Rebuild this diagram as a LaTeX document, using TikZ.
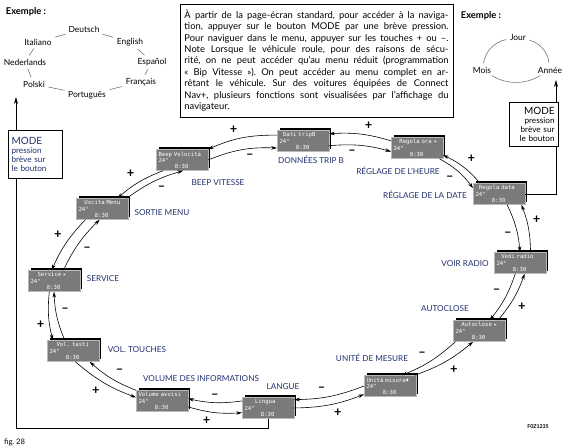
\documentclass[tikz,border=0pt]{standalone}
\usepackage{fontspec}
\setmainfont{Lato}
\setsansfont{Lato}
\newfontfamily\lcdfont{DejaVu Sans Mono}
\usetikzlibrary{arrows.meta, shadows}

\definecolor{navy}{HTML}{22306E}
\definecolor{lcdgray}{HTML}{7A7A7A}

\tikzset{
  lcd/.style={rectangle, fill=lcdgray, draw=gray!55, line width=.3pt, text=white,
    general shadow={fill=black, shadow xshift=2pt, shadow yshift=2.5pt},
    text width=40pt, inner xsep=2pt, inner ysep=1pt, minimum height=18pt, align=left,
    font=\lcdfont\fontsize{4.8}{5.3}\selectfont},
  lbl/.style={text=navy, inner sep=1pt, font=\fontsize{7}{7.5}\selectfont},
  lang/.style={inner sep=1pt, font=\fontsize{7.2}{8}\selectfont},
  langdash/.style={black!55, line width=.5pt, shorten <=2pt, shorten >=2pt},
  nav/.style={-{Stealth[length=5pt,width=3pt]}, line width=.5pt},
  sgn/.style={auto, swap, inner sep=3.5pt, font=\bfseries\fontsize{11}{11}\selectfont},
  modeline/.style={-{Stealth[length=6pt,width=3.5pt]}, line width=.7pt},
  modebox/.style={draw, fill=white, line width=.6pt, text width=40pt, inner xsep=3pt,
    font=\fontsize{7}{7.7}\selectfont},
}

\begin{document}
\frenchspacing
\begin{tikzpicture}[x=0.03cm, y=-0.03cm]
  \useasboundingbox (0,0) rectangle (575,447);

  % Example on the left (languages)
  \node[font=\bfseries\fontsize{8}{8}\selectfont] (exl) at (26,12) {Exemple :};
  \node[lang] (deu) at (84,29) {Deutsch};
  \node[lang] (eng) at (130,42) {English};
  \node[lang] (esp) at (152,62) {Español};
  \node[lang] (fra) at (141,82) {Français};
  \node[lang] (por) at (87,95) {Português};
  \node[lang] (pol) at (34,84) {Polski};
  \node[lang] (ned) at (25,62) {Nederlands};
  \node[lang] (ita) at (38,42) {Italiano};
  \draw[langdash] (ita) -- (deu);
  \draw[langdash] (deu) -- (eng);
  \draw[langdash] (eng) -- (esp);
  \draw[langdash] (esp) -- (fra);
  \draw[langdash] (fra) -- (por);
  \draw[langdash] (por) -- (pol);
  \draw[langdash] (pol) -- (ned);
  \draw[langdash] (ned) -- (ita);

  % Example on the right (date)
  \node[font=\bfseries\fontsize{8}{8}\selectfont] (exr) at (481,16) {Exemple :};
  \node[lang] (jour) at (518,38) {Jour};
  \node[lang] (mois) at (482,70) {Mois};
  \node[lang] (annee) at (550,70) {Année};
  \draw[langdash] (mois) to[bend left=35] (jour);
  \draw[langdash] (jour) to[bend left=35] (annee);
  \draw[langdash] (annee) to[bend left=30] (mois);

  % Instructions
  \node[draw, line width=.6pt, text width=7.92cm, inner xsep=3.8pt, minimum height=3.39cm,
    align=justify, font=\fontsize{8}{9.8}\selectfont] (intro) at (316.5,60.5)
  {À partir de la page-écran standard, pour accéder à la naviga-\linebreak
   tion, appuyer sur le bouton MODE par une brève pression.\linebreak
   Pour naviguer dans le menu, appuyer sur les touches + ou --.\linebreak
   Note Lorsque le véhicule roule, pour des raisons de sécu-\linebreak
   rité, on ne peut accéder qu'au menu réduit (programmation\linebreak
   « Bip Vitesse »). On peut accéder au menu complet en ar-\linebreak
   rêtant le véhicule. Sur des voitures équipées de Connect\linebreak
   Nav+, plusieurs fonctions sont visualisées par l'affichage du\linebreak
   navigateur.};

  % Displays
  \node[lcd] (dati) at (303,141) {\hspace*{3pt}Dati tripB\\24°\\\hspace*{14pt}8:30};
  \node[lcd] (ora) at (417,148) {\hspace*{5pt}Regola ora +\\24°\\\hspace*{14pt}8:30};
  \node[lcd] (data) at (499,194) {\hspace*{3pt}Regola data\\24°\\\hspace*{14pt}8:30};
  \node[lcd] (radio) at (520,263) {\hspace*{4pt}Vedi radio\\24°\\\hspace*{14pt}8:30};
  \node[lcd] (autoclose) at (479,331) {\hspace*{5pt}Autoclose ▸\\24°\\\hspace*{14pt}8:30};
  \node[lcd] (unita) at (390,386) {Unità misura♦\\24°\\\hspace*{14pt}8:30};
  \node[lcd] (lingua) at (268,408) {\hspace*{9pt}Lingua\\24°\\\hspace*{14pt}8:30};
  \node[lcd] (volume) at (162,401) {Volume avvisi\\24°\\\hspace*{14pt}8:30};
  \node[lcd] (vtasti) at (73,351) {\hspace*{6pt}Vol. tasti\\24°\\\hspace*{14pt}8:30};
  \node[lcd] (service) at (54,281) {\hspace*{6pt}Service ▸\\24°\\\hspace*{14pt}8:30};
  \node[lcd] (uscita) at (102,209) {\hspace*{5pt}Uscita Menu\\24°\\\hspace*{14pt}8:30};
  \node[lcd] (beep) at (182,160) {Beep Velocità\\24°\\\hspace*{14pt}8:30};

  % Labels
  \node[lbl] (ldati) at (311,160) {DONNÉES TRIP B};
  \node[lbl] (lora) at (398,171) {RÉGLAGE DE L'HEURE};
  \node[lbl] (ldata) at (425,195) {RÉGLAGE DE LA DATE};
  \node[lbl] (lradio) at (465,264) {VOIR RADIO};
  \node[lbl] (lauto) at (445,309) {AUTOCLOSE};
  \node[lbl] (lunita) at (372,358) {UNITÉ DE MESURE};
  \node[lbl] (llingua) at (283,387) {LANGUE};
  \node[lbl] (lvolume) at (201,379) {VOLUME DES INFORMATIONS};
  \node[lbl] (lvtasti) at (137,350) {VOL. TOUCHES};
  \node[lbl] (lservice) at (103,279) {SERVICE};
  \node[lbl] (luscita) at (162,213) {SORTIE MENU};
  \node[lbl] (lbeep) at (218,183) {BEEP VITESSE};

  % Navigation arrows: "-" goes clockwise, "+" goes back
  \draw[nav] (beep.east) to[bend left=12] node[sgn] {--} ([yshift=-6pt]dati.west);
  \draw[nav] ([yshift=5pt]dati.west) to[bend right=12] node[sgn] {+} (beep.north east);
  \draw[nav] ([yshift=-4pt]dati.east) to[bend left=10] node[sgn] {--} ([yshift=-3pt]ora.west);
  \draw[nav] ([yshift=-3pt]ora.north west) to[bend right=10] node[sgn] {+} ([yshift=-3pt]dati.north east);
  \draw[nav] ([xshift=-3pt]ora.south east) to[bend left=12] node[sgn] {--} ([yshift=5pt]data.west);
  \draw[nav] ([xshift=6pt]data.north west) to[bend right=12] node[sgn] {+} ([yshift=-6pt]ora.east);
  \draw[nav] ([xshift=7pt]data.south) to[bend left=10] node[sgn] {--} (radio.north);
  \draw[nav] ([xshift=9pt]radio.north) to[bend right=10] node[sgn] {+} ([xshift=-3pt]data.south east);
  \draw[nav] ([xshift=-4pt]radio.south) to[bend left=10] node[sgn] {--} ([xshift=9pt]autoclose.north);
  \draw[nav] ([xshift=-6pt]autoclose.north east) to[bend right=10] node[sgn] {+} ([xshift=4pt]radio.south);
  \draw[nav] ([xshift=2pt]autoclose.south west) to[bend left=10] node[sgn] {--} ([xshift=10pt]unita.north);
  \draw[nav] ([xshift=-1pt]unita.north east) to[bend right=10] node[sgn] {+} ([xshift=-5pt]autoclose.south);
  \draw[nav] (unita.west) to[bend left=10] node[sgn] {--} ([yshift=-2pt]lingua.north east);
  \draw[nav] (lingua.east) to[bend right=10] node[sgn] {+} ([yshift=2pt]unita.south west);
  \draw[nav] ([yshift=6pt]lingua.west) to[bend left=10] node[sgn] {--} ([yshift=2pt]volume.east);
  \draw[nav] ([yshift=-5pt]volume.east) to[bend right=10] node[sgn] {+} ([yshift=-4pt]lingua.west);
  \draw[nav] (volume.north west) to[bend left=10] node[sgn] {--} ([xshift=-8pt]vtasti.south east);
  \draw[nav] ([xshift=2pt]vtasti.south) to[bend right=10] node[sgn] {+} ([yshift=3pt]volume.west);
  \draw[nav] ([xshift=-7pt]vtasti.north) to[bend left=10] node[sgn] {--} (service.south);
  \draw[nav] ([xshift=-4pt]service.south) to[bend right=10] node[sgn] {+} ([xshift=5pt]vtasti.north west);
  \draw[nav] ([xshift=8pt]service.north) to[bend left=10] node[sgn] {--} ([xshift=-2pt]uscita.south);
  \draw[nav] ([xshift=8pt]uscita.south west) to[bend right=10] node[sgn] {+} ([xshift=-2pt]service.north);
  \draw[nav] ([xshift=-1pt]uscita.north east) to[bend left=10] node[sgn] {--} ([xshift=1pt]beep.south);
  \draw[nav] ([xshift=6pt]beep.south west) to[bend right=10] node[sgn] {+} ([xshift=-9pt]uscita.north east);

  % MODE lines and boxes
  \coordinate (lbot) at (16,428);
  \coordinate (ltip) at (16,97);
  \coordinate (rtip) at (556,80);
  \draw[modeline] (lingua.south) |- (lbot) -- (ltip);
  \draw[modeline] (data.east) -| (rtip);
  \node[modebox, text=navy, align=left, minimum height=41pt] (lmode) at (35,154)
    {{\fontsize{8.5}{8.5}\selectfont MODE}\\pression\\brève sur\\le bouton};
  \node[modebox, align=right, text width=36pt, minimum height=38pt] (rmode) at (533.5,124.5)
    {{\fontsize{8.5}{8.5}\selectfont MODE}\\pression\\brève sur\\le bouton};

  \node[font=\fontsize{6.5}{7}\selectfont, anchor=west] (fig) at (0,442) {fig. 28};
  \node[font=\bfseries\fontsize{4.5}{5}\selectfont] (code) at (538,427) {F0Z1235};
\end{tikzpicture}
\end{document}
